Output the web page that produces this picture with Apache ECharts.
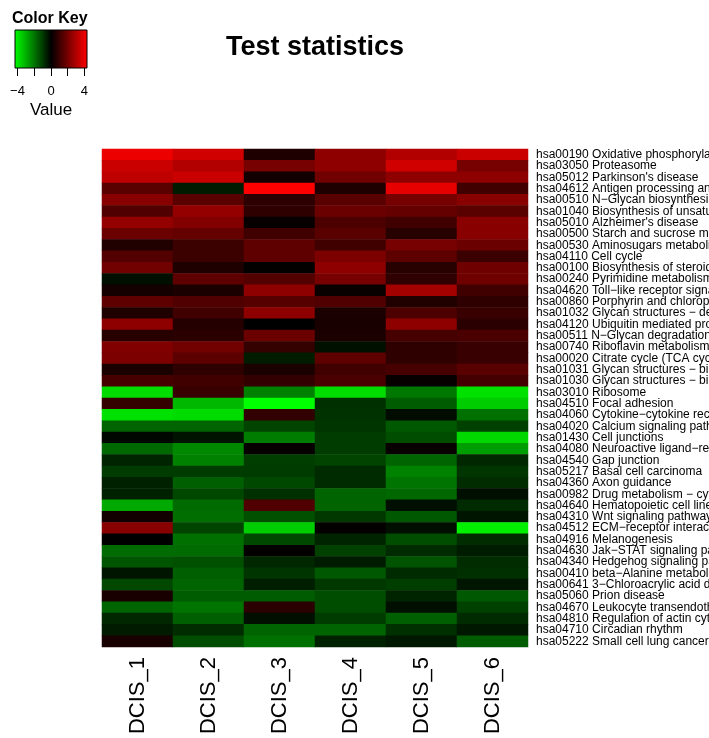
<!DOCTYPE html>
<html>
<head>
<meta charset="utf-8">
<script src="https://cdn.jsdelivr.net/npm/echarts@6/dist/echarts.min.js"></script>
<style>
html,body{margin:0;padding:0;background:#fff;}
#chart{width:709px;height:738px;}
</style>
</head>
<body>
<div id="chart"></div>
<script>
var colLabels = ['DCIS_1','DCIS_2','DCIS_3','DCIS_4','DCIS_5','DCIS_6'];
var rowLabels = [
 'hsa00190 Oxidative phosphorylation',
 'hsa03050 Proteasome',
 "hsa05012 Parkinson's disease",
 'hsa04612 Antigen processing and presentation',
 'hsa00510 N\u2212Glycan biosynthesis',
 'hsa01040 Biosynthesis of unsaturated fatty acids',
 "hsa05010 Alzheimer's disease",
 'hsa00500 Starch and sucrose metabolism',
 'hsa00530 Aminosugars metabolism',
 'hsa04110 Cell cycle',
 'hsa00100 Biosynthesis of steroids',
 'hsa00240 Pyrimidine metabolism',
 'hsa04620 Toll\u2212like receptor signaling pathway',
 'hsa00860 Porphyrin and chlorophyll metabolism',
 'hsa01032 Glycan structures \u2212 degradation',
 'hsa04120 Ubiquitin mediated proteolysis',
 'hsa00511 N\u2212Glycan degradation',
 'hsa00740 Riboflavin metabolism',
 'hsa00020 Citrate cycle (TCA cycle)',
 'hsa01031 Glycan structures \u2212 biosynthesis 2',
 'hsa01030 Glycan structures \u2212 biosynthesis 1',
 'hsa03010 Ribosome',
 'hsa04510 Focal adhesion',
 'hsa04060 Cytokine\u2212cytokine receptor interaction',
 'hsa04020 Calcium signaling pathway',
 'hsa01430 Cell junctions',
 'hsa04080 Neuroactive ligand\u2212receptor interaction',
 'hsa04540 Gap junction',
 'hsa05217 Basal cell carcinoma',
 'hsa04360 Axon guidance',
 'hsa00982 Drug metabolism \u2212 cytochrome P450',
 'hsa04640 Hematopoietic cell lineage',
 'hsa04310 Wnt signaling pathway',
 'hsa04512 ECM\u2212receptor interaction',
 'hsa04916 Melanogenesis',
 'hsa04630 Jak\u2212STAT signaling pathway',
 'hsa04340 Hedgehog signaling pathway',
 'hsa00410 beta\u2212Alanine metabolism',
 'hsa00641 3\u2212Chloroacrylic acid degradation',
 'hsa05060 Prion disease',
 'hsa04670 Leukocyte transendothelial migration',
 'hsa04810 Regulation of actin cytoskeleton',
 'hsa04710 Circadian rhythm',
 'hsa05222 Small cell lung cancer'
];

var dcis1 = [4.0,3.4,3.2,1.5,2.3,1.35,2.5,1.8,0.55,1.4,1.9,
 -0.25,0.35,1.6,0.5,2.4,0.65,2.15,2.1,0.45,1.2,
 -3.7,
 0.9,-3.8,-1.7,-0.1,-1.75,-0.6,-1.0,-0.55,-0.55,-2.85,0.3,
 2.3,0.0,-1.8,-1.45,-0.35,-1.2,0.4,-1.7,-0.65,-0.45,0.4];
var dcis2 = [3.5,3.0,3.4,-0.45,1.5,2.5,2.2,1.7,1.0,1.0,0.5,
 1.6,0.45,1.35,1.1,0.6,0.7,1.9,1.55,0.8,1.1,
 0.95,
 -3.1,-3.7,-1.7,-0.3,-2.3,-2.2,-1.0,-1.6,-1.2,-1.8,-1.85,
 -1.15,-1.9,-1.8,-1.35,-1.6,-1.7,-1.55,-1.95,-1.6,-0.75,-1.3];
var dcis3 = [0.5,2.0,0.3,4.3,0.75,0.8,0.1,1.1,1.6,1.6,0.05,
 1.4,2.4,1.45,2.4,0.0,1.8,0.9,-0.47,0.45,0.85,
 -2.15,
 -4.3,0.85,-1.15,-2.1,0.1,-1.05,-1.0,-1.2,-0.8,1.35,-1.35,
 -3.45,-1.2,0.07,-0.65,-0.9,-0.5,-1.55,0.7,-0.25,-1.7,-1.9];
var dcis4 = [2.4,2.4,1.9,0.5,1.5,1.8,1.3,1.5,1.1,2.1,2.4,
 2.0,0.15,1.35,0.45,0.4,0.45,-0.27,1.6,1.1,1.25,
 -3.7,
 -0.8,-0.85,-0.9,-1.0,-1.0,-1.15,-0.7,-0.7,-1.7,-1.7,-0.95,
 0.07,-0.6,-1.1,-0.47,-1.5,-0.95,-1.3,-1.3,-1.0,-1.7,-0.55];
var dcis5 = [3.0,3.5,2.4,3.9,2.0,1.7,1.1,0.65,2.0,1.55,0.65,
 0.8,2.75,0.55,1.3,2.4,1.2,0.8,0.8,1.2,0.1,
 -2.0,
 -1.55,-0.2,-1.5,-1.3,0.13,-1.7,-2.2,-1.95,-1.75,-0.25,-1.5,
 -0.25,-1.3,-0.7,-1.4,-0.7,-1.05,-0.6,-0.25,-1.6,-0.8,-0.4];
var dcis6 = [3.4,2.0,2.4,1.1,2.3,1.5,2.3,2.3,1.8,1.0,1.85,
 1.85,1.1,0.8,0.95,0.7,1.25,0.95,0.95,1.5,1.15,
 -3.8,
 -3.45,-1.9,-1.1,-3.65,-2.65,-0.65,-0.9,-0.75,-0.25,-0.7,-0.35,
 -4.05,-0.75,-0.47,-0.75,-0.8,-0.37,-1.5,-1.1,-0.7,-0.4,-1.55];

var keyTicks = [-4,-2,0,2,4];
var keyLabels = [-4,0,4];
var keyRange = [-4.3, 4.3];

var columns = [dcis1,dcis2,dcis3,dcis4,dcis5,dcis6];
var heatData = [];
columns.forEach(function(col, ci){
  col.forEach(function(v, ri){ heatData.push([ci, ri, v]); });
});

var FONT = 'Liberation Sans, Arial, Helvetica, sans-serif';
var chart = echarts.init(document.getElementById('chart'), null, {renderer:'canvas'});
chart.setOption({
  backgroundColor:'#ffffff',
  animation:false,
  textStyle:{fontFamily:FONT},
  title:[
    {text:'Test statistics', left:221, top:29,
     textStyle:{fontSize:27, fontWeight:'bold', color:'#000', fontFamily:FONT}},
    {text:'Color Key', left:7, top:6,
     textStyle:{fontSize:16, fontWeight:'bold', color:'#000', fontFamily:FONT}}
  ],
  grid:[
    {left:102, right:181, top:149, bottom:91, outerBoundsMode:'none', containLabel:false},
    {left:15, top:30, width:72, height:38, show:true, borderColor:'#000', borderWidth:1,
     outerBoundsMode:'none', containLabel:false,
     backgroundColor:{type:'linear', x:0, y:0, x2:1, y2:0,
       colorStops:[{offset:0,color:'#00FF00'},{offset:0.5,color:'#000000'},{offset:1,color:'#FF0000'}]}}
  ],
  xAxis:[
    {type:'category', gridIndex:0, data:colLabels, position:'bottom',
     axisLine:{show:false}, axisTick:{show:false}, splitLine:{show:false},
     axisLabel:{rotate:90, fontSize:22, color:'#000', margin:10, interval:0, fontFamily:FONT}},
    {type:'value', gridIndex:1, min:keyRange[0], max:keyRange[1],
     axisLine:{show:false}, splitLine:{show:false},
     axisTick:{show:true, length:8, lineStyle:{color:'#000', width:1}, customValues:keyTicks},
     axisLabel:{show:true, fontSize:13, color:'#000', margin:17, customValues:keyLabels,
       formatter:function(v){ return String(v).replace('-', '\u2212'); }},
     name:'Value', nameLocation:'middle', nameGap:34, nameMoveOverlap:false,
     nameTextStyle:{fontSize:17, color:'#000', fontFamily:FONT}}
  ],
  yAxis:[
    {type:'category', gridIndex:0, data:rowLabels, inverse:true, position:'right',
     axisLine:{show:false}, axisTick:{show:false}, splitLine:{show:false},
     axisLabel:{fontSize:12, color:'#000', margin:8, interval:0, fontFamily:FONT}},
    {type:'value', gridIndex:1, show:false, min:0, max:1}
  ],
  visualMap:{show:false, min:keyRange[0], max:keyRange[1], dimension:2, seriesIndex:0,
    inRange:{color:['#00FF00','#000000','#FF0000']}},
  series:[
    {type:'heatmap', xAxisIndex:0, yAxisIndex:0, data:heatData,
     itemStyle:{borderWidth:0}, emphasis:{disabled:true}}
  ]
});
</script>
</body>
</html>
